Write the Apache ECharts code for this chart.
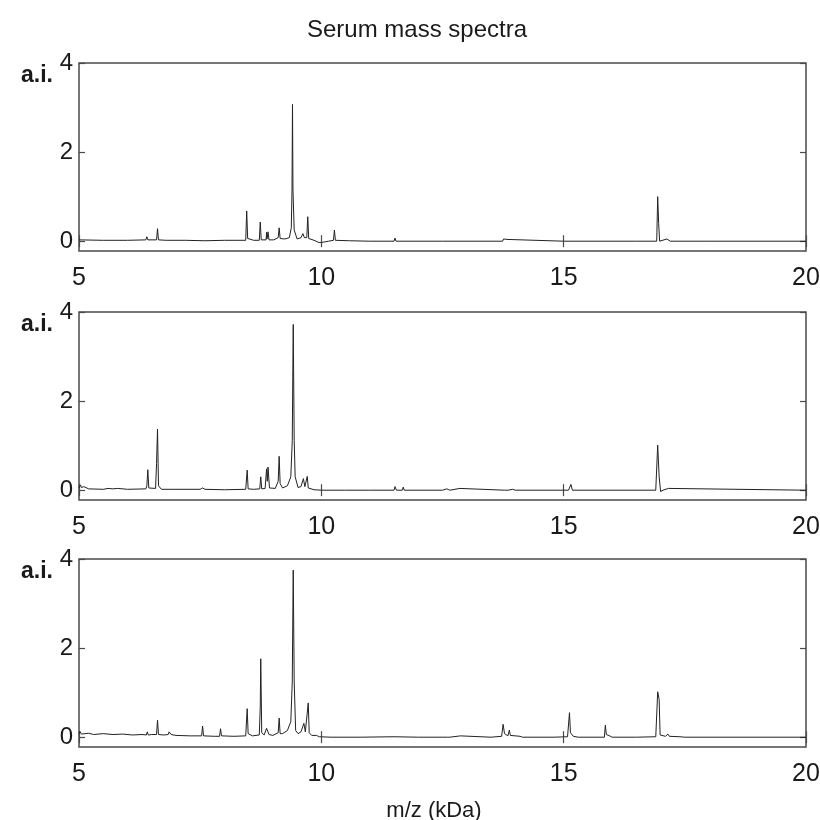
<!DOCTYPE html>
<html>
<head>
<meta charset="utf-8">
<script src="https://cdn.jsdelivr.net/npm/echarts@6/dist/echarts.min.js"></script>
<style>html,body{margin:0;padding:0;background:#fff}#c{width:820px;height:820px}</style>
</head>
<body>
<div id="c"></div>
<script>
// m/z (kDa) ticks and intensity (a.i.) ticks
const xTicks = [5, 10, 15, 20];
const yTicks = [0, 2, 4];

// Spectrum 1 (top panel): [m/z, intensity]
const spectrum1 = [
  [5.00,0.03],[5.5,0.02],[6.0,0.02],[6.38,0.03],[6.40,0.10],[6.42,0.03],[6.60,0.03],[6.62,0.28],[6.64,0.03],
  [6.8,0.02],[7.2,0.02],[7.6,0.01],[8.0,0.02],[8.44,0.02],[8.46,0.68],[8.48,0.06],[8.55,0.04],[8.6,0.02],
  [8.72,0.02],[8.74,0.43],[8.76,0.03],[8.86,0.03],[8.87,0.20],[8.88,0.05],[8.90,0.21],[8.92,0.03],[9.02,0.03],
  [9.11,0.08],[9.13,0.30],[9.15,0.06],[9.25,0.05],[9.34,0.08],[9.38,0.3],[9.395,1.15],[9.405,3.07],[9.415,1.15],
  [9.44,0.25],[9.50,0.05],[9.58,0.08],[9.62,0.17],[9.65,0.08],[9.70,0.08],[9.72,0.55],[9.74,0.06],[9.85,0.02],
  [9.95,-0.03],[10.05,-0.02],[10.15,0.0],[10.25,0.02],[10.27,0.25],[10.29,0.02],[10.58,0.01],[10.6,0.05],[10.62,0.01],
  [11.0,0.0],[11.50,0.0],[11.52,0.07],[11.54,0.0],[12.5,0.0],[13.74,0.0],[13.76,0.05],[13.78,0.01],[13.83,0.04],
  [13.85,0.0],[15.0,0.0],[16.5,0.0],[16.92,0.0],[16.94,1.0],[16.96,0.4],[16.98,0.0],[17.13,0.05],[17.2,0.0],
  [18,0],[20,0]
];

// Spectrum 2 (middle panel)
const spectrum2 = [
  [5.0,0.05],[5.03,0.12],[5.05,0.06],[5.1,0.08],[5.2,0.03],[5.5,0.02],[5.6,0.04],[5.7,0.03],[5.8,0.04],[6.0,0.02],
  [6.38,0.03],[6.40,0.1],[6.42,0.46],[6.44,0.05],[6.58,0.04],[6.60,0.6],[6.62,1.37],[6.64,0.1],[6.7,0.02],[7.0,0.02],
  [7.5,0.02],[7.55,0.05],[7.6,0.02],[8.0,0.01],[8.44,0.02],[8.47,0.45],[8.49,0.03],[8.6,0.02],[8.73,0.03],[8.75,0.30],
  [8.77,0.03],[8.84,0.04],[8.87,0.48],[8.885,0.2],[8.90,0.52],[8.93,0.05],[9.05,0.04],[9.11,0.2],[9.13,0.76],[9.15,0.15],
  [9.2,0.05],[9.3,0.1],[9.37,0.3],[9.40,1.11],[9.42,3.72],[9.44,1.11],[9.46,0.3],[9.52,0.06],[9.58,0.08],[9.63,0.26],
  [9.66,0.08],[9.69,0.1],[9.71,0.31],[9.73,0.05],[9.85,0.01],[10.0,0.0],[10.5,0.0],[11.0,0.0],[11.50,0.0],[11.52,0.08],
  [11.55,0.0],[11.67,0.0],[11.69,0.07],[11.71,0.0],[12.5,0],[12.59,0.03],[12.65,0],[12.86,0.04],[12.9,0],[13.78,0],
  [13.80,0.03],[13.85,0],[13.95,0.02],[14.0,0],[15.1,0],[15.15,0.13],[15.18,0],[16.9,0],[16.94,1.01],[16.97,0.3],
  [17.0,-0.03],[17.05,0],[17.16,0.04],[17.2,0],[20,0]
];

// Spectrum 3 (bottom panel)
const spectrum3 = [
  [5.0,0.08],[5.02,0.13],[5.05,0.07],[5.2,0.09],[5.3,0.06],[5.5,0.08],[5.7,0.06],[5.9,0.07],[6.1,0.05],[6.3,0.06],
  [6.39,0.05],[6.41,0.12],[6.43,0.05],[6.5,0.06],[6.60,0.06],[6.62,0.38],[6.64,0.06],[6.75,0.05],[6.84,0.06],[6.86,0.12],
  [6.9,0.06],[7.0,0.04],[7.3,0.03],[7.53,0.03],[7.55,0.25],[7.57,0.03],[7.8,0.02],[7.90,0.02],[7.92,0.19],[7.94,0.03],
  [8.2,0.02],[8.44,0.03],[8.47,0.64],[8.49,0.08],[8.53,0.1],[8.58,0.03],[8.72,0.05],[8.74,0.68],[8.75,1.76],[8.77,0.1],
  [8.82,0.05],[8.87,0.2],[8.89,0.2],[8.92,0.06],[9.0,0.04],[9.11,0.1],[9.13,0.43],[9.15,0.08],[9.2,0.08],[9.3,0.15],
  [9.37,0.35],[9.40,1.24],[9.42,3.75],[9.44,1.24],[9.47,0.15],[9.52,0.08],[9.58,0.12],[9.64,0.31],[9.67,0.12],[9.71,0.15],
  [9.73,0.77],[9.75,0.1],[9.80,0.04],[9.9,0.04],[9.93,0.07],[9.96,0.01],[10.2,0.0],[10.8,0.0],[11.5,0.01],[12.0,0.0],
  [12.6,0.0],[12.62,0.03],[12.65,0],[12.87,0.03],[12.9,0],[13.5,0],[13.72,0.02],[13.75,0.29],[13.78,0.08],[13.85,0.03],
  [13.88,0.16],[13.90,0.04],[14.1,0.02],[14.15,0],[14.8,0],[15.08,0.01],[15.12,0.55],[15.14,0.1],[15.2,0.02],[15.3,0],
  [15.84,0],[15.86,0.27],[15.88,0.06],[15.95,0.03],[16.0,0],[16.5,0],[16.9,0.01],[16.94,1.02],[16.97,0.85],[16.99,0.05],
  [17.1,0.02],[17.15,0.07],[17.18,0.02],[17.4,0.01],[17.5,0],[20,0]
];

const spectra = [spectrum1, spectrum2, spectrum3];
const gridTops = [63, 312, 559];
const FONT = 'Liberation Sans, Arial, sans-serif';
const TXT = '#1a1a1a';
const BOX = '#4a4a4a';

const grids = [], xAxes = [], yAxes = [], series = [];
gridTops.forEach((top, i) => {
  grids.push({left: 79, top: top, width: 727, height: 188, show: true,
    containLabel: false, outerBoundsMode: 'none',
    borderColor: BOX, borderWidth: 1.5, backgroundColor: 'transparent'});
  const xCommon = {type: 'value', gridIndex: i, min: 5, max: 20, interval: 5,
    axisLine: {show: false}, splitLine: {show: false},
    axisTick: {show: true, inside: true, length: 6, lineStyle: {color: BOX, width: 1.2}}};
  xAxes.push(Object.assign({}, xCommon, {position: 'bottom',
    axisLabel: {show: true, margin: 15, fontSize: 25, color: TXT, fontFamily: FONT,
      customValues: xTicks, showMinLabel: true, showMaxLabel: true}}));
  xAxes.push(Object.assign({}, xCommon, {position: 'top', axisLabel: {show: false}}));
  const yCommon = {type: 'value', gridIndex: i, min: -0.22, max: 4,
    axisLine: {show: false}, splitLine: {show: false},
    axisTick: {show: true, inside: true, length: 6, customValues: yTicks, lineStyle: {color: BOX, width: 1.2}}};
  yAxes.push(Object.assign({}, yCommon, {position: 'left',
    axisLabel: {show: true, margin: 6, fontSize: 24, color: TXT, fontFamily: FONT, customValues: yTicks}}));
  yAxes.push(Object.assign({}, yCommon, {position: 'right', axisLabel: {show: false}}));
  series.push({type: 'line', xAxisIndex: 2 * i, yAxisIndex: 2 * i, data: spectra[i],
    showSymbol: false, symbol: 'none', lineStyle: {color: '#222', width: 1}, silent: true});
});

const titles = [
  {text: 'Serum mass spectra', left: 412, top: 13, textAlign: 'center',
    textStyle: {fontSize: 24, fontWeight: 'normal', color: TXT, fontFamily: FONT}},
  {text: 'm/z (kDa)', left: 429, top: 795, textAlign: 'center',
    textStyle: {fontSize: 22, fontWeight: 'normal', color: TXT, fontFamily: FONT}}
];
gridTops.forEach(top => {
  titles.push({text: 'a.i.', left: 16, top: top - 4,
    textStyle: {fontSize: 23, fontWeight: 'bold', color: TXT, fontFamily: FONT}});
});

const chart = echarts.init(document.getElementById('c'), null, {renderer: 'canvas'});
chart.setOption({
  animation: false,
  backgroundColor: '#fff',
  title: titles,
  grid: grids,
  xAxis: xAxes,
  yAxis: yAxes,
  series: series
});
</script>
</body>
</html>
